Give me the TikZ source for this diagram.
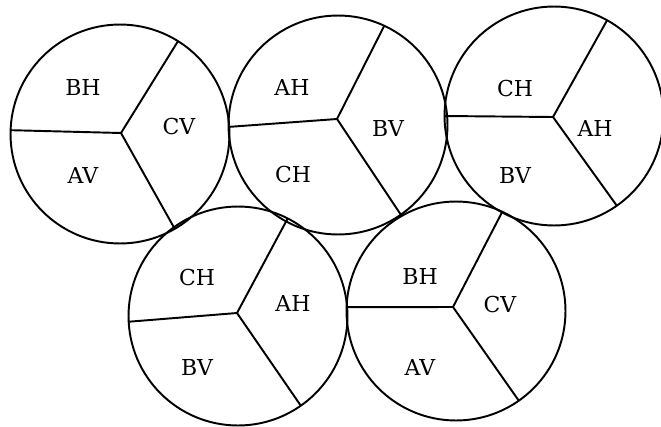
\documentclass[tikz,border=0pt]{standalone}
\usepackage{fontspec}
\setmainfont{DejaVu Serif}
\usepackage{tikz}
\usetikzlibrary{calc}
\tikzset{
  wheel/.style={circle,draw=black,line width=1.1pt,minimum size=4.38cm,inner sep=0pt,outer sep=0pt},
  spoke/.style={draw=black,line width=1.1pt},
  lab/.style={font=\fontsize{12.5}{15}\selectfont,inner sep=0pt},
}
\begin{document}
\begin{tikzpicture}[x=0.02cm,y=-0.02cm]
\useasboundingbox (0,0) rectangle (661,426);
% top row
\node[wheel] (w1) at (120,134) {};
\node[wheel] (w2) at (338,125) {};
\node[wheel] (w3) at (554,116) {};
% bottom row
\node[wheel] (w4) at (238,316) {};
\node[wheel] (w5) at (456,311) {};
\coordinate (h1) at (121,133);
\coordinate (h2) at (337,119);
\coordinate (h3) at (553,117);
\coordinate (h4) at (237,313);
\coordinate (h5) at (453,307);
\draw[spoke] (w1.178) -- (h1) -- (w1.58);
\draw[spoke] (h1) -- (w1.-60);
\draw[spoke] (w2.181.6) -- (h2) -- (w2.65);
\draw[spoke] (h2) -- (w2.-55);
\draw[spoke] (w3.180.5) -- (h3) -- (w3.61);
\draw[spoke] (h3) -- (w3.-55);
\draw[spoke] (w4.183.7) -- (h4) -- (w4.63.4);
\draw[spoke] (h4) -- (w4.-55);
\draw[spoke] (w5.178.4) -- (h5) -- (w5.65);
\draw[spoke] (h5) -- (w5.-55);
\node[lab] (l1a) at (83,87) {BH};
\node[lab] (l1b) at (179,127) {CV};
\node[lab] (l1c) at (83,175) {AV};
\node[lab] (l2a) at (292,87) {AH};
\node[lab] (l2b) at (388,128) {BV};
\node[lab] (l2c) at (293,175) {CH};
\node[lab] (l3a) at (515,89) {CH};
\node[lab] (l3b) at (595,128) {AH};
\node[lab] (l3c) at (515,175) {BV};
\node[lab] (l4a) at (197,277) {CH};
\node[lab] (l4b) at (293,303) {AH};
\node[lab] (l4c) at (197,367) {BV};
\node[lab] (l5a) at (420,276) {BH};
\node[lab] (l5b) at (500,304) {CV};
\node[lab] (l5c) at (420,367) {AV};
\end{tikzpicture}
\end{document}
